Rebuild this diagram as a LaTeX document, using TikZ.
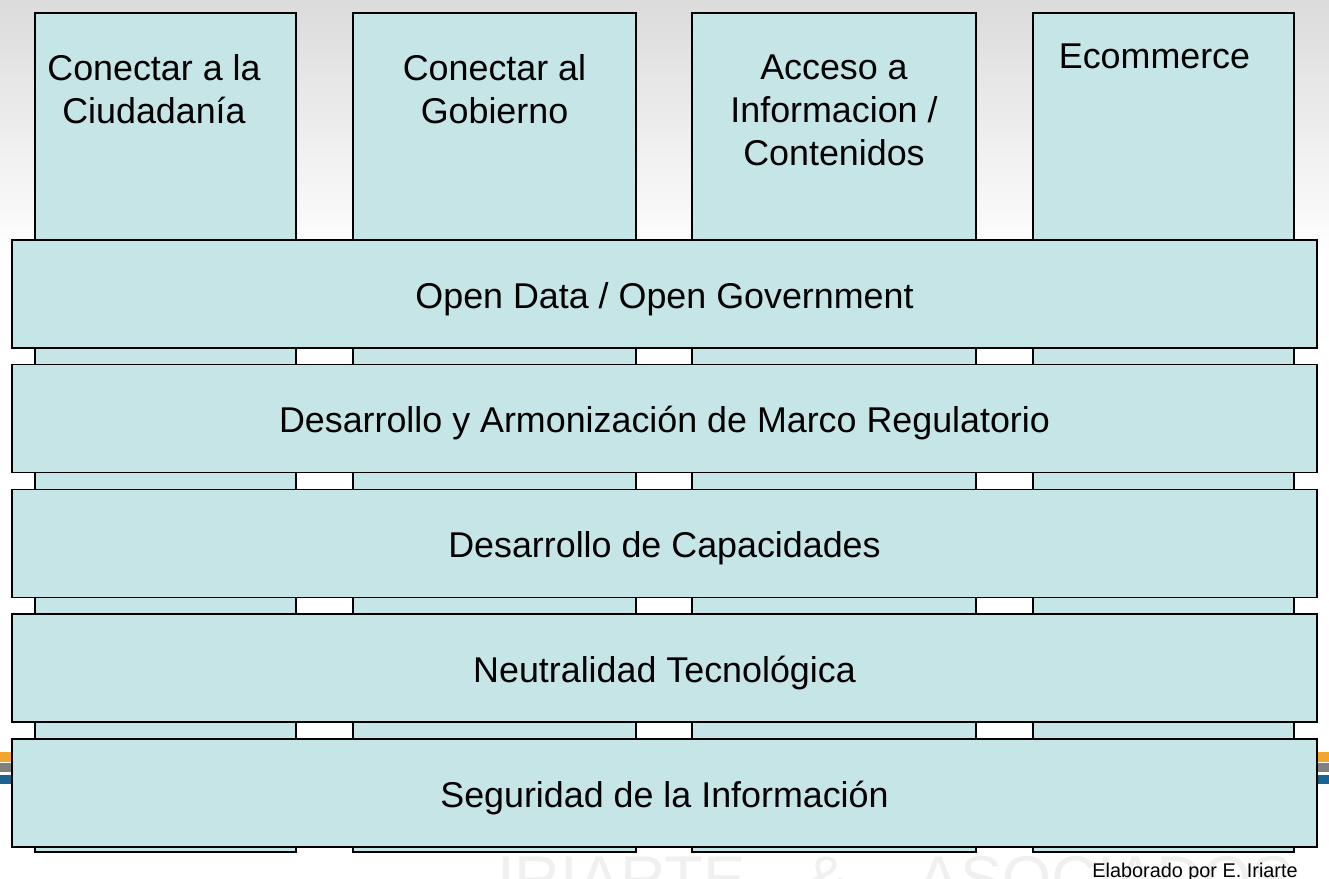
\documentclass[tikz,border=0pt]{standalone}
\usepackage{fontspec}
\setmainfont{Liberation Sans}
\usetikzlibrary{positioning}
\definecolor{celeste}{RGB}{198,229,230}
\definecolor{naranja}{RGB}{242,166,45}
\definecolor{azul}{RGB}{25,100,145}
\tikzset{
  pilar/.style={draw, line width=1.1pt, fill=celeste, inner sep=0pt, minimum height=16.78cm},
  barra/.style={draw, line width=1.1pt, fill=celeste, inner sep=0pt, minimum width=26.1cm, minimum height=2.16cm, text height=0.6cm, text depth=0.03cm, font=\fontsize{20.4}{24}\selectfont},
  titulo/.style={align=center, inner sep=0pt, font=\fontsize{20.4}{24.5}\selectfont},
}
\begin{document}
\begin{tikzpicture}[x=0.02cm,y=-0.02cm]
	\useasboundingbox (0,0) rectangle (1329,879);
	\clip (0,0) rectangle (1329,879);
	% fondo
	\shade[top color=gray!28, bottom color=white] (0,0) rectangle (1329,260);
	\fill[naranja] (0,752) rectangle (12,762);
	\fill[gray] (0,763) rectangle (12,772);
	\fill[azul] (0,775) rectangle (12,784);
	\fill[naranja] (1317,752) rectangle (1329,762);
	\fill[gray] (1317,763) rectangle (1329,772);
	\fill[azul] (1317,775) rectangle (1329,784);
	\node[anchor=base west, inner sep=0pt, text=gray!12, font=\fontsize{36}{40}\selectfont] (marca) at (497,900) {IRIARTE\hspace{1.2cm}\&\hspace{1.4cm}ASOCIADOS};
	% pilares
	\node[pilar, minimum width=5.22cm] (p1) at (165.5,432.5) {};
	\node[pilar, minimum width=5.66cm] (p2) at (494.5,432.5) {};
	\node[pilar, minimum width=5.68cm] (p3) at (834,432.5) {};
	\node[pilar, minimum width=5.22cm] (p4) at (1163.5,432.5) {};
	\node[titulo, below=0.84cm of p1.north, xshift=-0.23cm] (t1) {Conectar a la\\Ciudadanía};
	\node[titulo, below=0.84cm of p2.north] (t2) {Conectar al\\Gobierno};
	\node[titulo, below=0.84cm of p3.north] (t3) {Acceso a\\Informacion /\\Contenidos};
	\node[titulo, below=0.63cm of p4.north, xshift=-0.18cm] (t4) {Ecommerce};
	% capas
	\node[barra] (b1) at (664.5,294) {Open Data / Open Government};
	\node[barra] (b2) at (664.5,418.5) {Desarrollo y Armonización de Marco Regulatorio};
	\node[barra] (b3) at (664.5,543.5) {Desarrollo de Capacidades};
	\node[barra] (b4) at (664.5,668) {Neutralidad Tecnológica};
	\node[barra] (b5) at (664.5,793) {Seguridad de la Información};
	\node[anchor=base east, inner sep=0pt, font=\fontsize{11.3}{13}\selectfont] (autor) at (1298,877) {Elaborado por E. Iriarte};
\end{tikzpicture}
\end{document}
